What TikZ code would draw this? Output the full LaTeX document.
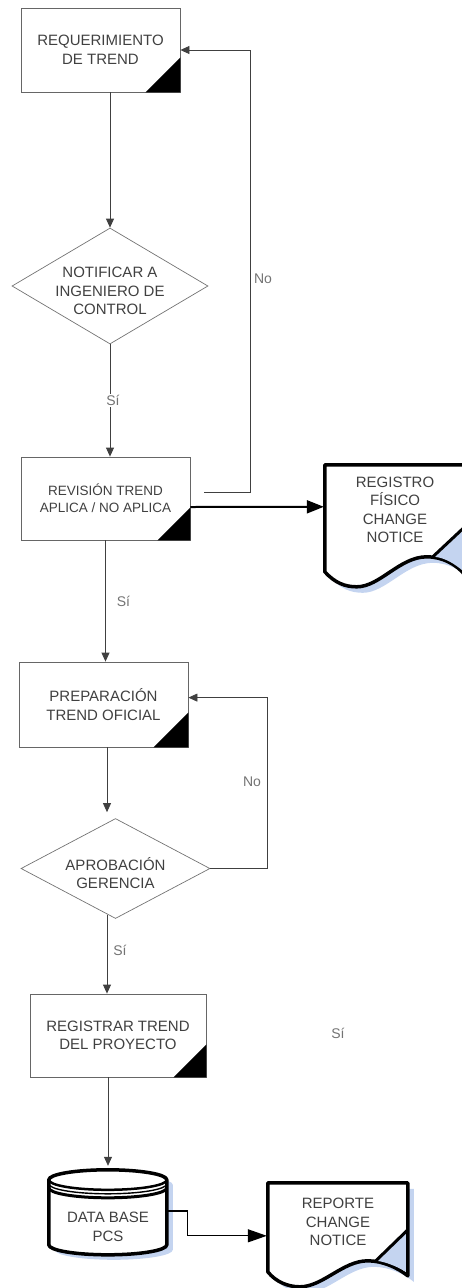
\documentclass[tikz,border=0pt]{standalone}
\usepackage{fontspec}
\setmainfont{Liberation Sans}
\usetikzlibrary{shapes.geometric,arrows.meta,calc,backgrounds}

\definecolor{shadowblue}{RGB}{196,212,240}

% black dog-ear mark in the lower right corner of a process box
\newcommand\cornermark[2]{\fill (#1.south east) -- ++(-#2,0) -- ++(#2,-#2) -- cycle;}

\begin{document}
\begin{tikzpicture}[x=1pt,y=-1pt,
  txt/.style={font=\fontsize{15}{18.5}\selectfont, text=black!75, align=center},
  procbox/.style={txt, draw=black!60, line width=0.8pt, rectangle, inner sep=0pt},
  decbox/.style={draw=black!55, line width=0.7pt, diamond, inner sep=0pt},
  flow/.style={draw=black!75, line width=0.8pt, -{Triangle[length=9pt,width=8pt]}},
  heavyflow/.style={draw=black, line width=2pt, -{Triangle[length=17pt,width=13pt]}},
  medflow/.style={draw=black, line width=1.3pt, -{Triangle[length=19pt,width=13pt]}},
  lbl/.style={font=\fontsize{14}{16}\selectfont, text=black!55, inner sep=1pt},
  docline/.style={draw=black, line width=3.5pt, line join=round},
  shade/.style={fill=shadowblue},
  holder/.style={inner sep=0pt, rectangle},
]
\useasboundingbox (0,0) rectangle (462,1288);

% ---------- process boxes ----------
\node[procbox, minimum width=159pt, minimum height=84pt] (req) at (100.5,50) {REQUERIMIENTO\\DE TREND};
\cornermark{req}{35}

\node[procbox, font=\fontsize{13.5}{17}\selectfont, minimum width=169pt, minimum height=83pt] (rev) at (105.5,498.5) {REVISI\'ON TREND\\APLICA / NO APLICA};
\cornermark{rev}{33}

\node[procbox, minimum width=169pt, minimum height=85pt] (prep) at (103.5,704.5) {PREPARACI\'ON\\TREND OFICIAL};
\cornermark{prep}{35}

\node[procbox, minimum width=176pt, minimum height=83pt] (regist) at (118,1035.5) {REGISTRAR TREND\\DEL PROYECTO};
\cornermark{regist}{33}

% ---------- decisions ----------
\node[decbox, minimum width=196pt, minimum height=116pt,
      label={[txt, yshift=-5pt]center:{NOTIFICAR A\\INGENIERO DE\\CONTROL}}] (notif) at (110,286) {};
\node[decbox, minimum width=189pt, minimum height=100pt,
      label={[txt, yshift=-4.5pt]center:{APROBACI\'ON\\GERENCIA}}] (aprob) at (115.5,868.5) {};

% ---------- documents and data base ----------
\node[holder, txt, minimum width=140pt, minimum height=90pt] (doc1) at (395,510) {REGISTRO\\F\'ISICO\\CHANGE\\NOTICE};
\node[holder, txt, minimum width=140pt, minimum height=78pt] (doc2) at (338,1222) {REPORTE\\CHANGE\\NOTICE};
\node[holder, minimum width=118pt, minimum height=86pt,
      label={[txt, yshift=-15pt]center:{DATA BASE\\PCS}}] (db) at (108,1212) {};

\begin{scope}[on background layer]
  % document with a curled corner
  \begin{scope}[shift={(doc1.north west)}]
    \begin{scope}[shift={(6,6)}]
      \fill[shade] (0,107) .. controls (10,118) and (20,122) .. (32,122)
        .. controls (55,122) and (75,92) .. (102,92)
        .. controls (118,92) and (132,100) .. (140,110) -- (140,0) -- (0,0) -- cycle;
    \end{scope}
    \draw[docline, fill=white] (0,107) .. controls (10,118) and (20,122) .. (32,122)
      .. controls (55,122) and (75,92) .. (102,92)
      .. controls (118,92) and (132,100) .. (140,110) -- (140,0) -- (0,0) -- cycle;
    \fill[shade] (110,92) -- (138,66) -- (138,106) .. controls (130,99) and (120,93) .. (110,92) -- cycle;
    \draw[docline, line width=3pt] (108,92) -- (140,62);
  \end{scope}
  \begin{scope}[shift={(doc2.north west)}]
    \begin{scope}[shift={(6,6)}]
      \fill[shade] (0,89) .. controls (8,99) and (20,104) .. (32,104)
        .. controls (55,104) and (75,78) .. (100,78)
        .. controls (115,78) and (130,85) .. (140,93) -- (140,0) -- (0,0) -- cycle;
    \end{scope}
    \draw[docline, fill=white] (0,89) .. controls (8,99) and (20,104) .. (32,104)
      .. controls (55,104) and (75,78) .. (100,78)
      .. controls (115,78) and (130,85) .. (140,93) -- (140,0) -- (0,0) -- cycle;
    \fill[shade] (109,78) -- (138,50) -- (138,89) .. controls (130,84) and (118,79) .. (109,78) -- cycle;
    \draw[docline, line width=3pt] (107,79) -- (140,47);
  \end{scope}
  % stacked data base cylinder
  \begin{scope}[shift={(db.north west)}]
    \fill[shade] (6,16) -- (6,81) arc[start angle=180, end angle=0, x radius=59, y radius=10]
      -- (124,16) arc[start angle=0, end angle=-180, x radius=59, y radius=10] -- cycle;
    \draw[docline, fill=white] (0,11) -- (0,76) arc[start angle=180, end angle=0, x radius=59, y radius=10]
      -- (118,11) arc[start angle=0, end angle=-180, x radius=59, y radius=10] -- cycle;
    \draw[docline, line width=2.5pt] (0,11) arc[start angle=180, end angle=0, x radius=59, y radius=10];
    \draw[line width=1.4pt] (0,15) arc[start angle=180, end angle=0, x radius=59, y radius=10];
    \draw[line width=3pt] (0,19) arc[start angle=180, end angle=0, x radius=59, y radius=10];
  \end{scope}
\end{scope}

% ---------- connectors ----------
\draw[flow] (req.south -| notif.north) -- (notif.north);
\draw[flow] (notif.south) -- (notif.south |- rev.north)
  node[lbl, midway, fill=white, xshift=3pt] (si1) {S\'i};
\draw[flow] ($(rev.east)+(14,-6.5)$) -| ($(req.east)+(70,0)$) -- (req.east);
\node[lbl] (no1) at (263,279) {No};
\draw[heavyflow] ($(rev.east)+(0,8.5)$) -- ($(doc1.north west)+(-1,42)$);

\draw[flow] (rev.south) -- (rev.south |- prep.north)
  node[lbl, midway, anchor=west, xshift=10pt] (si2) {S\'i};
\draw[flow] ($(prep.south)+(3.5,0)$) -- ($(aprob.north)+(-8.5,-6)$);
\draw[flow] (aprob.east) -| ($(prep.north east)+(79,36)$) -- ($(prep.north east)+(0,36)$);
\node[lbl] (no2) at (252,782) {No};

\draw[flow] ($(aprob.south)+(-8.5,-4)$) coordinate (a2s) -- (a2s |- regist.north)
  node[lbl, pos=0.45, anchor=west, xshift=5pt] (si3) {S\'i};
\node[lbl] (si4) at (338,1033) {S\'i};

\draw[flow] (regist.south -| db.north) -- ($(db.north)+(0,-3)$);
\draw[medflow] ($(db.east)+(1,-1)$) -- ++(19,0) |- ($(doc2.north west)+(-1,53)$);
\end{tikzpicture}
\end{document}
